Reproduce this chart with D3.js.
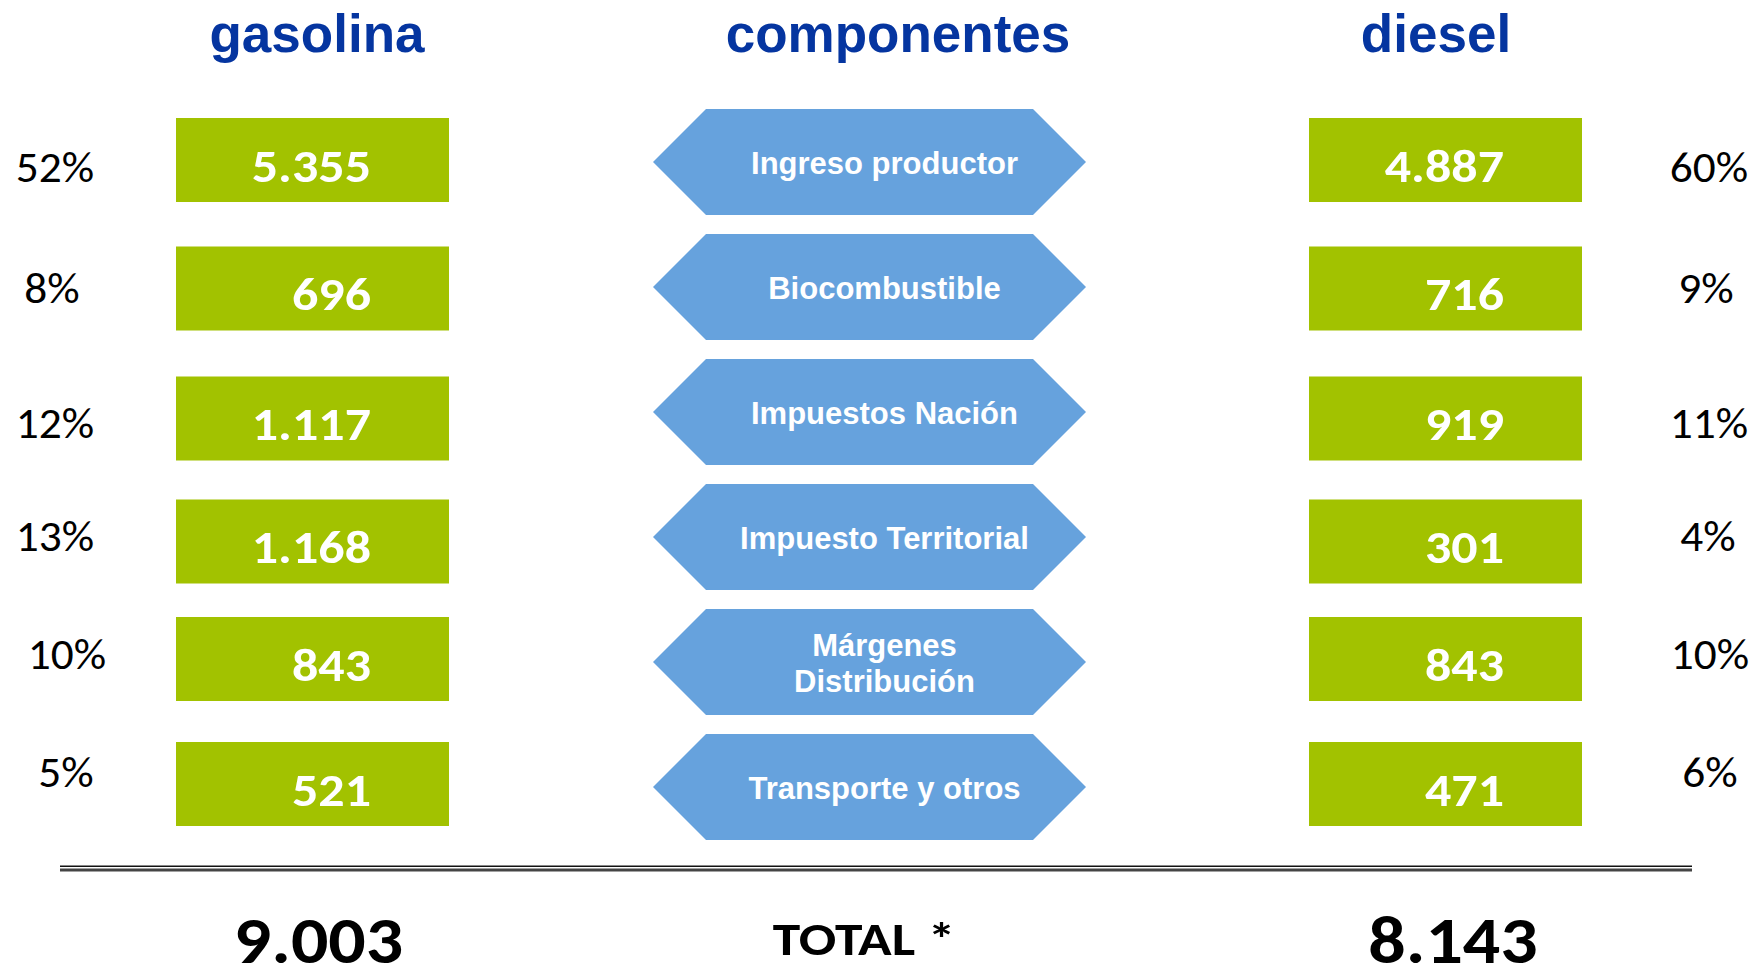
<!DOCTYPE html>
<html>
<head>
<meta charset="utf-8">
<script src="https://cdn.jsdelivr.net/npm/d3@7"></script>
<style>
  html, body { margin: 0; padding: 0; background: #ffffff; overflow: hidden; }
  svg { display: block; }
</style>
</head>
<body>
<script>
// ---------------- DATA ----------------
const columnTitles = ["gasolina", "componentes", "diesel"];
const components = ["Ingreso productor", "Biocombustible", "Impuestos Nación",
                    "Impuesto Territorial", "Márgenes\nDistribución", "Transporte y otros"];
const gasolinaValues = [5355, 696, 1117, 1168, 843, 521];
const dieselValues   = [4887, 716, 919, 301, 843, 471];
const gasolinaPct = ["52%", "8%", "12%", "13%", "10%", "5%"];
const dieselPct   = ["60%", "9%", "11%", "4%", "10%", "6%"];
const totalLabel = "TOTAL *";
const totalValues = [9003, 8143];   // gasolina, diesel

// ---------------- LAYOUT (kept apart from the data) ----------------
const W = 1754, H = 967;
const boxDy   = [-2, 1.5, 6.5, 4.5, -3, -3];   // small per-row nudges of the value boxes
const pctDy   = [20, 16, 26, 14, 7, 0];        // baseline of the percentage labels vs row centre
const pctDxL  = [0, -3, 0, 0, 12, 11];
const pctDxR  = [0, -3, 0, -1, 1, 1];

const COLORS = { title: "#0535a0", box: "#a2c200", hex: "#66a2dd", text: "#000000" };
const FONT_HEAD = "'Liberation Sans', Arial, Helvetica, sans-serif";
const FONT_NUM  = "Carlito, Calibri, Lato, sans-serif";

const fmt = d3.formatLocale({ decimal: ",", thousands: ".", grouping: [3], currency: ["$", ""] }).format(",");

const svg = d3.select("body").append("svg").attr("width", W).attr("height", H);

// Row positions (point scale over the components)
const y = d3.scalePoint().domain(d3.range(components.length)).range([162, 787]);

// Column positions
const col = d3.scaleOrdinal().domain(columnTitles).range([317, 898, 1436]);

// ---- Titles ----
svg.selectAll("text.title").data(columnTitles).join("text")
  .attr("class", "title")
  .attr("x", d => col(d)).attr("y", 52)
  .attr("text-anchor", "middle")
  .style("font-family", FONT_HEAD).style("font-weight", "bold").style("font-size", "53px")
  .style("fill", COLORS.title)
  .text(d => d);

// ---- Hexagons ----
const hexL = 653, hexR = 1086, hexH = 106;
const hexPath = cy => {
  const t = cy - hexH / 2, b = cy + hexH / 2, k = hexH / 2;
  return `M${hexL},${cy}L${hexL + k},${t}L${hexR - k},${t}L${hexR},${cy}L${hexR - k},${b}L${hexL + k},${b}Z`;
};
const hexG = svg.selectAll("g.hex").data(components).join("g").attr("class", "hex");
hexG.append("path").attr("d", (d, i) => hexPath(y(i))).attr("fill", COLORS.hex);
hexG.append("text")
  .attr("text-anchor", "middle")
  .style("font-family", FONT_HEAD).style("font-weight", "bold").style("font-size", "31px")
  .style("fill", "#ffffff")
  .each(function (d, i) {
    const lines = d.split("\n");
    const cx = (hexL + hexR) / 2 + 15;
    const lh = 36.7;
    const base = y(i) + 12 - (lines.length - 1) * lh / 2;
    d3.select(this).selectAll("tspan").data(lines).join("tspan")
      .attr("x", cx).attr("y", (l, j) => base + j * lh).text(l => l);
  });

// ---- Value boxes ----
const boxW = 273, boxH = 84;
const sides = [
  { values: gasolinaValues, pct: gasolinaPct, boxX: 176, pctX: 55,   pctDx: pctDxL },
  { values: dieselValues,   pct: dieselPct,   boxX: 1309, pctX: 1709, pctDx: pctDxR }
];
sides.forEach(s => {
  const g = svg.append("g");
  g.selectAll("rect").data(s.values).join("rect")
    .attr("x", s.boxX).attr("y", (d, i) => y(i) + boxDy[i] - boxH / 2)
    .attr("width", boxW).attr("height", boxH)
    .attr("fill", COLORS.box);
  g.selectAll("text.val").data(s.values).join("text")
    .attr("class", "val")
    .attr("transform", (d, i) => `translate(${s.boxX + 195},${y(i) + boxDy[i] + 21.5}) scale(1.13,1)`)
    .attr("text-anchor", "end")
    .style("font-family", FONT_NUM).style("font-weight", "bold").style("font-size", "46px")
    .style("fill", "#ffffff")
    .text(d => fmt(d));
  g.selectAll("text.pct").data(s.pct).join("text")
    .attr("class", "pct")
    .attr("transform", (d, i) => `translate(${s.pctX + s.pctDx[i]},${y(i) + pctDy[i]}) scale(1.03,1)`)
    .attr("text-anchor", "middle")
    .style("font-family", FONT_NUM).style("font-size", "44px")
    .style("fill", COLORS.text)
    .text(d => d);
});

// ---- Double rule ----
svg.append("line").attr("x1", 60).attr("x2", 1692).attr("y1", 866.3).attr("y2", 866.3)
  .attr("stroke", "#111").attr("stroke-width", 1.4);
svg.append("line").attr("x1", 60).attr("x2", 1692).attr("y1", 870).attr("y2", 870)
  .attr("stroke", "#444").attr("stroke-width", 3);

// ---- Totals ----
svg.append("text")
  .attr("transform", "translate(864,955) scale(1.18,1)")
  .attr("text-anchor", "middle")
  .style("font-family", FONT_NUM).style("font-weight", "bold").style("font-size", "47px")
  .style("fill", COLORS.text).text(totalLabel);
svg.selectAll("text.total").data(totalValues).join("text")
  .attr("class", "total")
  .attr("transform", (d, i) => `translate(${i === 0 ? 318.5 : 1453},963) scale(1.12,1)`)
  .attr("text-anchor", "middle")
  .style("font-family", FONT_NUM).style("font-weight", "bold").style("font-size", "66px")
  .style("fill", COLORS.text)
  .text(d => fmt(d));
</script>
</body>
</html>
